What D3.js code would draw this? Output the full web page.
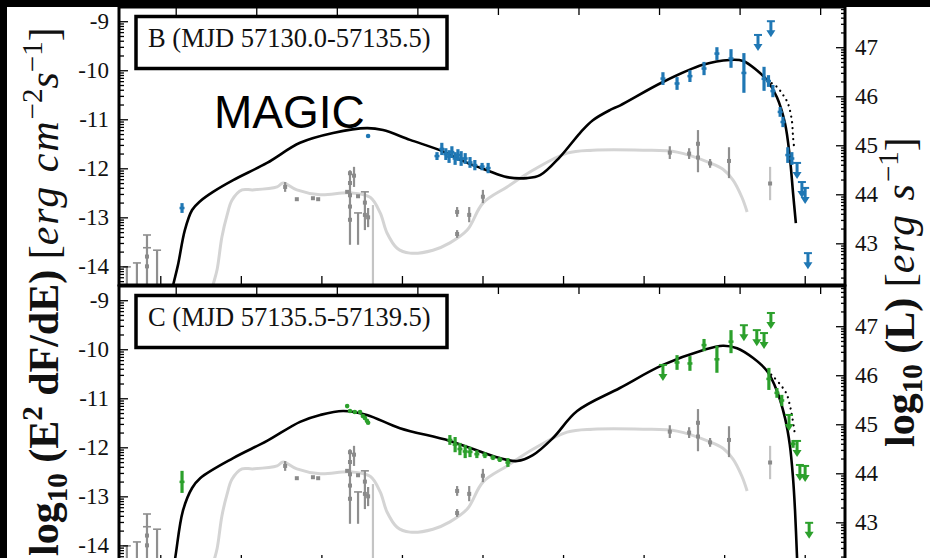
<!DOCTYPE html>
<html>
<head>
<meta charset="utf-8">
<script src="https://cdn.jsdelivr.net/npm/d3@7"></script>
<style>
  body { margin: 0; background: #fff; }
  svg { display: block; }
  text { white-space: pre; }
</style>
</head>
<body>
<svg id="chart" width="930" height="558"></svg>
<script>
// ---- axis ticks -------------------------------------------------------
const nuTicks = [10, 12, 14, 16, 18, 20, 22, 24, 26];          // log10 nu [Hz], bottom axis
const energyTicks = [-4, -2, 0, 2, 4, 6, 8, 10, 12];          // log10 E [eV], top axis
const fluxTicks = [-9, -10, -11, -12, -13, -14];              // log10 E^2 dF/dE
const lumTicks = [43, 44, 45, 46, 47];                        // log10 L
const lumOffset = 56.53;                                       // log10(4 pi d_L^2)
const hzPerEv = 14.383;                                        // log10(e / h)

// ---- model SEDs: [log10 nu, log10 E^2dF/dE] -----------------------------
const modelB = [[10.24,-14.69],[10.32,-14.38],[10.44,-13.97],[10.61,-13.26],[10.79,-12.85],[10.99,-12.67],[11.31,-12.48],[11.81,-12.24],[12.65,-11.89],[13.47,-11.48],[14.29,-11.28],[15.13,-11.18],[15.53,-11.22],[16.20,-11.42],[16.94,-11.63],[17.62,-11.89],[18.11,-12.04],[18.61,-12.18],[19.10,-12.20],[19.43,-12.14],[19.92,-11.77],[20.42,-11.28],[20.74,-11.02],[21.17,-10.81],[21.41,-10.72],[22.48,-10.24],[23.47,-9.89],[24.14,-9.79],[24.47,-9.81],[24.81,-10.00],[25.06,-10.20],[25.31,-10.55],[25.51,-11.08],[25.63,-11.77],[25.71,-12.50],[25.78,-13.12]];
const modelC = [[10.24,-14.90],[10.37,-14.26],[10.56,-13.30],[10.79,-12.83],[10.99,-12.63],[11.81,-12.22],[12.65,-11.87],[13.47,-11.48],[13.97,-11.34],[14.54,-11.26],[15.13,-11.34],[15.95,-11.61],[17.19,-11.87],[18.43,-12.22],[18.86,-12.28],[19.25,-12.16],[19.75,-11.81],[20.35,-11.26],[21.41,-10.79],[22.48,-10.32],[23.47,-10.02],[23.97,-9.93],[24.32,-9.98],[24.72,-10.18],[25.06,-10.44],[25.31,-10.85],[25.51,-11.40],[25.63,-11.95],[25.71,-12.63],[25.76,-13.30],[25.81,-14.26],[25.83,-14.60]];
// model without EBL absorption (dotted)
const dottedB = [[25.06,-10.20],[25.31,-10.34],[25.46,-10.50],[25.58,-10.67],[25.68,-11.02],[25.71,-11.36],[25.74,-11.60]];
const dottedC = [[25.06,-10.44],[25.21,-10.55],[25.46,-10.79],[25.56,-10.93],[25.63,-11.14],[25.68,-11.34],[25.76,-11.75]];
// low-state model (grey)
const lowModel = [[11.25,-14.60],[11.31,-14.38],[11.41,-14.07],[11.53,-13.40],[11.66,-12.95],[11.78,-12.65],[12.03,-12.44],[12.30,-12.44],[12.90,-12.38],[13.05,-12.30],[13.39,-12.44],[13.97,-12.54],[14.71,-12.50],[15.21,-12.59],[15.46,-12.91],[15.63,-13.32],[15.88,-13.63],[16.20,-13.73],[16.77,-13.67],[17.19,-13.52],[17.62,-13.26],[18.01,-12.71],[18.61,-12.38],[19.25,-12.04],[20.10,-11.69],[20.74,-11.63],[21.98,-11.63],[22.83,-11.67],[23.65,-11.89],[23.97,-12.02],[24.22,-12.24],[24.44,-12.59],[24.57,-12.89]];

// ---- archival (low state) data: [log nu, low, high] --------------------
const archBars = [[9.17,-14.50,-14.01],[9.42,-14.50,-13.93],[9.67,-14.50,-13.36],[9.92,-14.50,-13.67],
  [13.10,-12.48,-12.28],
  [14.71,-13.56,-12.04],[14.81,-12.38,-11.97],[14.91,-13.56,-12.91],[15.08,-13.26,-12.48],[15.16,-13.20,-12.81],
  [17.37,-12.99,-12.79],[17.37,-13.42,-13.26],[17.67,-13.10,-12.79],[18.01,-12.71,-12.44],
  [22.65,-11.81,-11.55],[23.13,-11.81,-11.59],[23.35,-12.08,-11.22],[23.65,-11.99,-11.81],[24.12,-12.20,-11.57]];
const archFaint = [[15.28,-14.50,-12.75],[25.14,-12.65,-11.97]];
const archCaps = [[9.17,-14.01],[9.42,-13.93],[9.67,-13.36],[9.67,-13.62],[9.92,-13.67],[14.91,-12.91],[15.08,-12.48]];
const archPts = [[9.67,-13.80],[9.67,-14.00],[13.10,-12.38],[13.39,-12.63],[13.79,-12.61],[13.92,-12.63],
  [14.64,-12.48],[14.71,-12.10],[14.71,-12.30],[14.71,-12.55],[14.71,-12.78],[14.71,-13.05],[14.81,-12.15],
  [14.91,-12.57],[15.08,-12.70],[15.08,-12.95],[15.16,-13.00],[17.37,-12.89],[17.37,-13.34],[17.67,-12.95],
  [18.01,-12.58],[22.65,-11.68],[23.13,-11.70],[23.35,-11.50],[23.35,-11.78],[23.65,-11.90],[24.12,-11.85],[25.14,-12.31]];

// ---- period B (blue) ---------------------------------------------------
const blueBars = [[10.54,-12.91,-12.71],
  [16.87,-11.83,-11.67],[16.99,-11.73,-11.48],[17.09,-11.83,-11.59],[17.17,-11.89,-11.63],[17.24,-11.79,-11.55],
  [17.32,-11.93,-11.67],[17.39,-11.85,-11.61],[17.47,-11.95,-11.65],[17.57,-11.91,-11.69],[17.69,-11.99,-11.77],
  [17.81,-12.04,-11.83],[17.99,-12.04,-11.89],[18.14,-12.10,-11.89],
  [22.48,-10.30,-10.04],[22.83,-10.40,-10.14],[23.15,-10.24,-10.00],[23.50,-10.10,-9.83],[23.82,-9.79,-9.53],
  [24.17,-9.95,-9.57],[24.49,-10.46,-9.65],[24.99,-10.42,-9.93],[25.10,-10.34,-10.10],[25.21,-10.55,-10.30],
  [25.39,-10.95,-10.75],[25.46,-11.16,-10.95],[25.58,-11.89,-11.57],[25.68,-11.93,-11.67]];
const blueDots = [[15.16,-11.34]];
const blueLimits = [[24.84,-9.28],[25.16,-9.00],[25.81,-11.89],[25.93,-12.28],[26.01,-12.40],[26.08,-13.73]];

// ---- period C (green) --------------------------------------------------
const greenBars = [[10.54,-12.93,-12.48],
  [17.19,-11.95,-11.75],[17.32,-12.10,-11.79],[17.44,-12.16,-11.91],[17.57,-12.22,-11.95],[17.69,-12.20,-11.99],
  [17.86,-12.22,-12.06],[18.06,-12.22,-12.10],[18.26,-12.26,-12.16],[18.43,-12.30,-12.20],[18.63,-12.40,-12.22],
  [22.83,-10.42,-10.12],[23.15,-10.44,-10.14],[23.50,-10.04,-9.79],[23.82,-10.48,-9.93],[24.17,-10.08,-9.61],
  [25.11,-10.83,-10.38],[25.31,-10.99,-10.79],[25.43,-11.16,-10.93],[25.71,-12.01,-11.85]];
const greenDots = [[14.64,-11.16],[14.71,-11.26],[14.83,-11.28],[14.96,-11.28],[15.03,-11.36],[15.08,-11.40],[15.13,-11.46],[15.16,-11.50]];
const greenLimits = [[22.48,-10.32],[24.49,-9.51],[24.81,-9.61],[24.99,-9.67],[25.16,-9.26],[25.61,-11.34],[25.81,-11.87],[25.88,-12.36],[26.01,-12.38],[26.11,-13.54]];

// ---- layout --------------------------------------------------------------
const svg = d3.select("#chart");
const X0 = 120, X1 = 845;
const fluxDomain = [-14.38, -8.71];
const x = d3.scaleLinear().domain([9, 27]).range([X0, X1]);
const xE = d3.scaleLinear().domain([9 - hzPerEv, 27 - hzPerEv]).range([X0, X1]);
const SERIF = "'Liberation Serif', 'Times New Roman', serif";

svg.append("rect").attr("width", 930).attr("height", 558).attr("fill", "#fff");

const panels = [
  { key: "B", top: 7,   bottom: 285, title: "B (MJD 57130.0-57135.5)", model: modelB, dotted: dottedB,
    color: "#1f77b4", bars: blueBars, dots: blueDots, limits: blueLimits },
  { key: "C", top: 286, bottom: 564, title: "C (MJD 57135.5-57139.5)", model: modelC, dotted: dottedC,
    color: "#2ca02c", bars: greenBars, dots: greenDots, limits: greenLimits }
];

function minorValues(lo, hi) {
  const out = [];
  for (let m = Math.floor(lo) - 1; m <= Math.ceil(hi); m++)
    for (let k = 2; k <= 9; k++) {
      const v = m + Math.log10(k);
      if (v > lo && v < hi) out.push(v);
    }
  return out;
}

function styleAxis(g) {
  g.select(".domain").remove();
  g.selectAll(".tick line").attr("stroke", "#000").attr("stroke-width", 1.3);
  g.selectAll(".tick text").attr("font-family", SERIF).attr("font-size", 23).attr("fill", "#111");
  g.attr("font-family", null).attr("font-size", null);
}

panels.forEach(p => {
  const y = d3.scaleLinear().domain(fluxDomain).range([p.bottom, p.top]);
  const yL = d3.scaleLinear().domain(fluxDomain.map(v => v + lumOffset)).range([p.bottom, p.top]);
  const g = svg.append("g");
  const clipId = "clip" + p.key;
  g.append("clipPath").attr("id", clipId).append("rect")
    .attr("x", X0).attr("y", p.top).attr("width", X1 - X0).attr("height", p.bottom - p.top);
  const plot = g.append("g").attr("clip-path", `url(#${clipId})`);

  const line = d3.line().x(d => x(d[0])).y(d => y(d[1])).curve(d3.curveCatmullRom.alpha(0.5));

  // low-state model and archival data
  plot.append("path").datum(lowModel).attr("d", line)
    .attr("fill", "none").attr("stroke", "#d4d4d4").attr("stroke-width", 3);
  plot.selectAll(".arch").data(archBars).join("line")
    .attr("x1", d => x(d[0])).attr("x2", d => x(d[0]))
    .attr("y1", d => y(d[1])).attr("y2", d => y(d[2]))
    .attr("stroke", "#8f8f8f").attr("stroke-width", 2.2);
  plot.selectAll(".archf").data(archFaint).join("line")
    .attr("x1", d => x(d[0])).attr("x2", d => x(d[0]))
    .attr("y1", d => y(d[1])).attr("y2", d => y(d[2]))
    .attr("stroke", "#c4c4c4").attr("stroke-width", 2.2);
  plot.selectAll(".archc").data(archCaps).join("line")
    .attr("x1", d => x(d[0]) - 4).attr("x2", d => x(d[0]) + 4)
    .attr("y1", d => y(d[1])).attr("y2", d => y(d[1]))
    .attr("stroke", "#8f8f8f").attr("stroke-width", 1.6);
  plot.selectAll(".archp").data(archPts).join("rect")
    .attr("x", d => x(d[0]) - 2).attr("y", d => y(d[1]) - 2)
    .attr("width", 4).attr("height", 4).attr("fill", "#8a8a8a");

  // full model and model without absorption
  plot.append("path").datum(p.model).attr("d", line)
    .attr("fill", "none").attr("stroke", "#000").attr("stroke-width", 2.6);
  plot.append("path").datum(p.dotted).attr("d", line)
    .attr("fill", "none").attr("stroke", "#000").attr("stroke-width", 2.2)
    .attr("stroke-linecap", "round").attr("stroke-dasharray", "0.1,5.6");

  // flaring-period data
  plot.selectAll(".bar").data(p.bars).join("line")
    .attr("x1", d => x(d[0])).attr("x2", d => x(d[0]))
    .attr("y1", d => y(d[1])).attr("y2", d => y(d[2]))
    .attr("stroke", p.color).attr("stroke-width", 3.2);
  plot.selectAll(".barx").data(p.bars).join("line")
    .attr("x1", d => x(d[0]) - 2.5).attr("x2", d => x(d[0]) + 2.5)
    .attr("y1", d => y((d[1] + d[2]) / 2)).attr("y2", d => y((d[1] + d[2]) / 2))
    .attr("stroke", p.color).attr("stroke-width", 2.5);
  plot.selectAll(".dot").data(p.dots).join("circle")
    .attr("cx", d => x(d[0])).attr("cy", d => y(d[1])).attr("r", 2.3).attr("fill", p.color);
  const lim = plot.selectAll(".lim").data(p.limits).join("g")
    .attr("transform", d => `translate(${x(d[0])},${y(d[1])})`);
  lim.append("line").attr("x1", -4).attr("x2", 4).attr("y1", 0).attr("y2", 0)
    .attr("stroke", p.color).attr("stroke-width", 2);
  lim.append("line").attr("x1", 0).attr("x2", 0).attr("y1", 0).attr("y2", 10)
    .attr("stroke", p.color).attr("stroke-width", 3);
  lim.append("path").attr("d", "M-4.5,9 L4.5,9 L0,16 Z").attr("fill", p.color);

  // axes: ticks point inwards
  const gb = g.append("g").attr("transform", `translate(0,${p.bottom})`)
    .call(d3.axisBottom(x).tickValues(nuTicks).tickSize(-9).tickFormat(""));
  styleAxis(gb);
  const gt = g.append("g").attr("transform", `translate(0,${p.top})`)
    .call(d3.axisTop(xE).tickValues(energyTicks).tickSize(-8).tickFormat(""));
  styleAxis(gt);
  const gl = g.append("g").attr("transform", `translate(${X0},0)`)
    .call(d3.axisLeft(y).tickValues(fluxTicks).tickSize(-8).tickPadding(11).tickFormat(d => String(d)));
  styleAxis(gl);
  const glm = g.append("g").attr("transform", `translate(${X0},0)`)
    .call(d3.axisLeft(y).tickValues(minorValues(...fluxDomain)).tickSize(-4).tickFormat(""));
  styleAxis(glm);
  const gr = g.append("g").attr("transform", `translate(${X1},0)`)
    .call(d3.axisRight(yL).tickValues(lumTicks).tickSize(-9).tickPadding(10).tickFormat(d => String(d)));
  styleAxis(gr);
  const grm = g.append("g").attr("transform", `translate(${X1},0)`)
    .call(d3.axisRight(yL).tickValues(minorValues(fluxDomain[0] + lumOffset, fluxDomain[1] + lumOffset)).tickSize(-4).tickFormat(""));
  styleAxis(grm);

  // frame
  g.append("rect").attr("x", X0 - 1).attr("y", p.top).attr("width", X1 - X0 + 1).attr("height", p.bottom - p.top)
    .attr("fill", "none").attr("stroke", "#000").attr("stroke-width", 3);

  // period label box
  g.append("rect").attr("x", 136).attr("y", p.top + 9.5).attr("width", 311).attr("height", 52)
    .attr("fill", "#fff").attr("stroke", "#000").attr("stroke-width", 3.5);
  g.append("text").attr("x", 148).attr("y", p.top + 40)
    .attr("font-family", SERIF).attr("font-size", 26.5).attr("fill", "#111").text(p.title);
});

// instrument tag
svg.append("text").attr("x", 214).attr("y", 128)
  .attr("font-family", "'Liberation Sans', Arial, sans-serif").attr("font-size", 46).attr("fill", "#000").text("MAGIC");

// axis titles
function axisTitle(tx, ty, parts) {
  const t = svg.append("text").attr("transform", `translate(${tx},${ty}) rotate(-90)`)
    .attr("font-family", SERIF).attr("font-size", 42).attr("fill", "#111");
  parts.forEach(s => {
    const ts = t.append("tspan").text(s.t);
    if (s.b) ts.attr("font-weight", "bold");
    if (s.i) ts.attr("font-style", "italic");
    if (s.fs) ts.attr("font-size", s.fs);
    if (s.dy) ts.attr("dy", s.dy);
    if (s.ls) ts.attr("letter-spacing", s.ls);
  });
}
axisTitle(58, 556, [
  {t: "log", b: 1}, {t: "10", b: 1, fs: 29, dy: 9}, {t: " (E", b: 1, dy: -9}, {t: "2", b: 1, fs: 29, dy: -16},
  {t: " dF/dE)", b: 1, dy: 16},
  {t: " ["}, {t: "erg cm", i: 1, ls: 2}, {t: "\u22122", fs: 29, dy: -16}, {t: "s", i: 1, dy: 16},
  {t: "\u22121", fs: 29, dy: -16}, {t: "]", dy: 16}]);
axisTitle(914, 447, [
  {t: "log", b: 1}, {t: "10", b: 1, fs: 29, dy: 8}, {t: " (L)", b: 1, dy: -8},
  {t: " ["}, {t: "erg s", i: 1, ls: 2}, {t: "\u22121", fs: 29, dy: -16}, {t: "]", dy: 16}]);

// outer dark margins
svg.append("rect").attr("x", 0).attr("y", 0).attr("width", 930).attr("height", 7).attr("fill", "#000");
svg.append("rect").attr("x", 0).attr("y", 0).attr("width", 7).attr("height", 558).attr("fill", "#000");
</script>
</body>
</html>
